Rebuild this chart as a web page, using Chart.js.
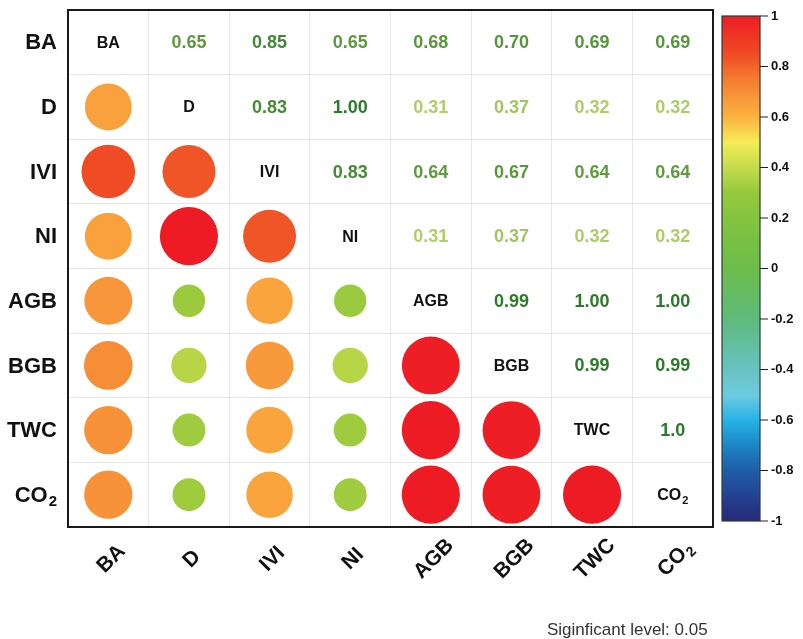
<!DOCTYPE html>
<html>
<head>
<meta charset="utf-8">
<script src="https://cdn.jsdelivr.net/npm/chart.js@4.4.1/dist/chart.umd.min.js"></script>
<style>
  html, body { margin: 0; padding: 0; background: #fff; }
  #wrap { width: 803px; height: 639px; }
</style>
</head>
<body>
<div id="wrap"><canvas id="c" width="803" height="639"></canvas></div>
<script>
// Variables of the correlation matrix (row/column order)
const variables = ['BA', 'D', 'IVI', 'NI', 'AGB', 'BGB', 'TWC', 'CO2'];

// Upper-triangle coefficients, one list per row (as printed)
const rowBA  = ['0.65', '0.85', '0.65', '0.68', '0.70', '0.69', '0.69'];
const rowD   = ['0.83', '1.00', '0.31', '0.37', '0.32', '0.32'];
const rowIVI = ['0.83', '0.64', '0.67', '0.64', '0.64'];
const rowNI  = ['0.31', '0.37', '0.32', '0.32'];
const rowAGB = ['0.99', '1.00', '1.00'];
const rowBGB = ['0.99', '0.99'];
const rowTWC = ['1.0'];
const upperRows = [rowBA, rowD, rowIVI, rowNI, rowAGB, rowBGB, rowTWC];

// Colour-bar tick labels
const barTicks = ['1', '0.8', '0.6', '0.4', '0.2', '0', '-0.2', '-0.4', '-0.6', '-0.8', '-1'];

const noteText = 'Siginficant level: 0.05';

// Diverging palette used for circles and the colour bar
const palette = [
  [1.00, '#ed1c24'], [0.85, '#ef4b25'], [0.75, '#f47b30'], [0.68, '#f7963a'],
  [0.60, '#fbb240'], [0.50, '#f5ec58'], [0.40, '#c4dc4c'], [0.30, '#96c83c'],
  [0.15, '#7dc242'], [0.00, '#6cbd4a'], [-0.20, '#5fba7d'], [-0.40, '#67c3c0'],
  [-0.50, '#6dcbdf'], [-0.60, '#27b3e6'], [-0.70, '#1b86c6'], [-0.80, '#1f5da8'],
  [-1.00, '#27287a']
];
// Green ramp for the printed coefficients
const textRamp = [[0.30, '#b3cf6c'], [0.65, '#5b9b3c'], [0.85, '#3f8a34'], [1.00, '#2a7a2a']];

function hexToRgb(h) {
  return [parseInt(h.slice(1, 3), 16), parseInt(h.slice(3, 5), 16), parseInt(h.slice(5, 7), 16)];
}
function ramp(stops, v) {
  const s = stops.slice().sort((a, b) => a[0] - b[0]);
  if (v <= s[0][0]) return s[0][1];
  if (v >= s[s.length - 1][0]) return s[s.length - 1][1];
  for (let i = 0; i < s.length - 1; i++) {
    const [v0, c0] = s[i], [v1, c1] = s[i + 1];
    if (v >= v0 && v <= v1) {
      const t = (v - v0) / (v1 - v0);
      const a = hexToRgb(c0), b = hexToRgb(c1);
      const m = a.map((x, k) => Math.round(x + (b[k] - x) * t));
      return `rgb(${m[0]},${m[1]},${m[2]})`;
    }
  }
  return s[0][1];
}

// Full symmetric matrix of labels
const n = variables.length;
const labelAt = (i, j) => (i < j ? upperRows[i][j - i - 1] : upperRows[j][i - j - 1]);

// Lower triangle circles: x = column, y = row
const circles = [];
for (let i = 0; i < n; i++) {
  for (let j = 0; j < i; j++) {
    circles.push({ x: j, y: i, v: parseFloat(labelAt(i, j)) });
  }
}

const FONT = '"Liberation Sans", Arial, Helvetica, sans-serif';
const gridTicks = [];
for (let k = 0; k <= n; k++) gridTicks.push(k - 0.5);

// Circle radius: area proportional to |r|, near-full cell for |r| = 1
function circleRadius(c) {
  const ch = c.chart;
  const xs = ch.scales && ch.scales.x, ys = ch.scales && ch.scales.y;
  const p = c.raw || circles[c.dataIndex];
  if (!xs || !ys || !p) return 0;
  const cw = Math.abs(xs.getPixelForValue(1) - xs.getPixelForValue(0));
  const chh = Math.abs(ys.getPixelForValue(1) - ys.getPixelForValue(0));
  const cell = Math.min(cw, chh);
  if (!isFinite(cell) || cell <= 0) return 0;
  return 0.45 * cell * Math.sqrt(Math.abs(p.v));
}
function circleColor(c) {
  const p = c.raw || circles[c.dataIndex];
  return ramp(palette, p ? p.v : 0);
}

function drawName(ctx, name, x, y, size, align) {
  const m = name.match(/^(.*?[A-Za-z])(\d+)$/);
  const main = m ? m[1] : name;
  const sub = m ? m[2] : '';
  ctx.font = `bold ${size}px ${FONT}`;
  const wMain = ctx.measureText(main).width;
  const subSize = Math.round(size * 0.66);
  ctx.font = `bold ${subSize}px ${FONT}`;
  const wSub = sub ? ctx.measureText(sub).width + 1 : 0;
  const total = wMain + wSub;
  let left = x;
  if (align === 'center') left = x - total / 2;
  else if (align === 'right') left = x - total;
  ctx.textAlign = 'left';
  ctx.textBaseline = 'middle';
  ctx.font = `bold ${size}px ${FONT}`;
  ctx.fillText(main, left, y);
  if (sub) {
    ctx.font = `bold ${subSize}px ${FONT}`;
    ctx.fillText(sub, left + wMain + 1, y + size * 0.3);
  }
}

const matrixPlugin = {
  id: 'matrixText',
  afterDatasetsDraw(chart) {
    const ctx = chart.ctx;
    const xs = chart.scales.x, ys = chart.scales.y;
    const a = chart.chartArea;
    ctx.save();

    // Diagonal names and upper coefficients
    for (let i = 0; i < n; i++) {
      for (let j = i; j < n; j++) {
        const px = xs.getPixelForValue(j), py = ys.getPixelForValue(i);
        if (i === j) {
          ctx.fillStyle = '#111';
          drawName(ctx, variables[i], px, py + 1, 16, 'center');
        } else {
          const lab = labelAt(i, j);
          ctx.fillStyle = ramp(textRamp, Math.abs(parseFloat(lab)));
          ctx.font = `bold 18px ${FONT}`;
          ctx.textAlign = 'center';
          ctx.textBaseline = 'middle';
          ctx.fillText(lab, px, py + 1);
        }
      }
    }

    // Plot frame
    ctx.strokeStyle = '#1a1a1a';
    ctx.lineWidth = 2;
    ctx.strokeRect(a.left, a.top, a.right - a.left, a.bottom - a.top);

    // Row names
    ctx.fillStyle = '#111';
    for (let i = 0; i < n; i++) {
      drawName(ctx, variables[i], a.left - 11, ys.getPixelForValue(i) + 1, 22, 'right');
    }
    // Column names, rotated
    for (let j = 0; j < n; j++) {
      ctx.save();
      ctx.translate(xs.getPixelForValue(j) + 3, a.bottom + 32);
      ctx.rotate(-Math.PI / 4);
      drawName(ctx, variables[j], 0, 0, 21, 'center');
      ctx.restore();
    }

    // Colour bar
    const bx0 = 722, bx1 = 760, by0 = 16, by1 = 521;
    const g = ctx.createLinearGradient(0, by0, 0, by1);
    palette.forEach(([v, c]) => g.addColorStop((1 - v) / 2, c));
    ctx.fillStyle = g;
    ctx.fillRect(bx0, by0, bx1 - bx0, by1 - by0);
    ctx.strokeStyle = '#2d3b35';
    ctx.lineWidth = 1.2;
    ctx.strokeRect(bx0, by0, bx1 - bx0, by1 - by0);
    ctx.fillStyle = '#111';
    ctx.font = `bold 13px ${FONT}`;
    ctx.textAlign = 'left';
    ctx.textBaseline = 'middle';
    barTicks.forEach(t => {
      const v = parseFloat(t);
      const y = by0 + (1 - v) / 2 * (by1 - by0);
      ctx.beginPath();
      ctx.moveTo(bx1, y);
      ctx.lineTo(bx1 + 8, y);
      ctx.strokeStyle = '#222';
      ctx.lineWidth = 1;
      ctx.stroke();
      ctx.fillText(t, bx1 + 11, y);
    });

    // Footnote
    ctx.fillStyle = '#333';
    ctx.font = `17px ${FONT}`;
    ctx.textAlign = 'left';
    ctx.textBaseline = 'alphabetic';
    ctx.fillText(noteText, 547, 635);
    ctx.restore();
  }
};

const axisBase = {
  type: 'linear',
  min: -0.5,
  max: n - 0.5,
  afterBuildTicks: axis => { axis.ticks = gridTicks.map(v => ({ value: v })); },
  ticks: { display: false },
  grid: { color: '#e4e6e8', lineWidth: 1, drawTicks: false },
  border: { display: false }
};

new Chart(document.getElementById('c'), {
  type: 'scatter',
  data: {
    datasets: [{
      data: circles,
      pointBackgroundColor: circleColor,
      pointBorderWidth: 0,
      pointBorderColor: 'rgba(0,0,0,0)',
      pointRadius: circleRadius,
      pointHoverRadius: circleRadius
    }]
  },
  options: {
    responsive: false,
    animation: false,
    events: [],
    layout: { padding: { left: 68, top: 10, right: 90, bottom: 112 } },
    plugins: { legend: { display: false }, tooltip: { enabled: false } },
    scales: {
      x: Object.assign({}, axisBase),
      y: Object.assign({}, axisBase, { reverse: true })
    }
  },
  plugins: [matrixPlugin]
});
</script>
</body>
</html>
